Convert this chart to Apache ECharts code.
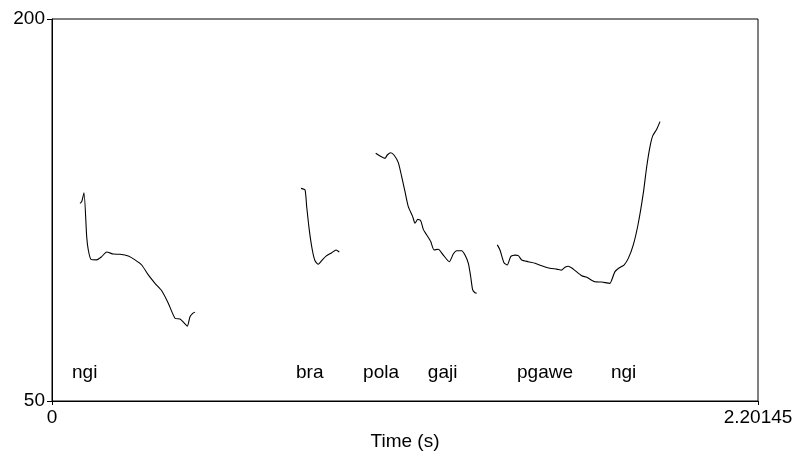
<!DOCTYPE html>
<html>
<head>
<meta charset="utf-8">
<script src="https://cdn.jsdelivr.net/npm/echarts@6/dist/echarts.min.js"></script>
<style>html,body{margin:0;padding:0;background:#fff}#c{width:799px;height:458px}</style>
</head>
<body>
<div id="c"></div>
<script>
var xMin = 0, xMax = 2.20145;
var yMin = 50, yMax = 200;
var xTickLabels = ['0', '2.20145'];
var yTickLabels = ['50', '200'];
var xAxisName = 'Time (s)';

var seg1 = [[0.0873,127.6],[0.0926,128.3],[0.0998,131.8],[0.1082,114.5],[0.1132,109.3],[0.1216,105.6],[0.1394,105.4],[0.1550,106.7],[0.1706,108.5],[0.1911,107.7],[0.2120,107.6],[0.2379,106.9],[0.2588,105.4],[0.2797,103.4],[0.3003,99.5],[0.3212,96.2],[0.3421,93.3],[0.3626,88.4],[0.3835,82.5],[0.3991,82.2],[0.4116,80.7],[0.4219,79.4],[0.4303,83.1],[0.4387,84.4],[0.4459,84.9]];
var seg2 = [[0.7764,133.5],[0.7889,132.9],[0.7942,126.3],[0.8023,117.1],[0.8117,109.3],[0.8201,105.1],[0.8304,103.7],[0.8410,105.1],[0.8544,106.9],[0.8722,108.2],[0.8856,109.3],[0.8958,108.5]];
var seg3 = [[1.0094,147.3],[1.0228,146.2],[1.0384,145.3],[1.0455,146.6],[1.0561,147.5],[1.0664,146.6],[1.0798,143.6],[1.0904,138.1],[1.1007,132.2],[1.1110,126.3],[1.1247,122.4],[1.1319,119.8],[1.1403,121.3],[1.1497,120.8],[1.1578,117.4],[1.1684,115.2],[1.1809,112.6],[1.1912,109.3],[1.2046,109.6],[1.2201,107.3],[1.2389,104.7],[1.2513,107.7],[1.2619,109.0],[1.2775,109.0],[1.2878,107.3],[1.2981,104.1],[1.3056,98.8],[1.3118,93.6],[1.3190,92.5],[1.3243,92.3]];
var seg4 = [[1.3885,111.3],[1.3969,109.3],[1.4094,104.3],[1.4197,103.4],[1.4303,106.7],[1.4437,107.3],[1.4540,107.1],[1.4646,105.4],[1.4852,104.7],[1.5061,104.1],[1.5270,103.1],[1.5529,102.1],[1.5737,101.8],[1.5893,101.4],[1.5996,102.5],[1.6099,102.9],[1.6255,101.8],[1.6517,99.2],[1.6673,98.6],[1.6932,96.8],[1.7141,96.7],[1.7400,96.2],[1.7453,97.5],[1.7555,100.8],[1.7690,102.3],[1.7836,103.4],[1.7970,106.0],[1.8126,111.3],[1.8282,119.8],[1.8438,131.6],[1.8544,142.0],[1.8647,149.9],[1.8731,154.1],[1.8856,156.7],[1.8959,159.7]];

var words = ['ngi', 'bra', 'pola', 'gaji', 'pgawe', 'ngi'];
var wordTimes = [0.0624, 0.761, 0.970, 1.172, 1.450, 1.743];
var wordLevel = 60.9;

var chart = echarts.init(document.getElementById('c'), null, {renderer: 'canvas'});
var font = 'Liberation Sans, Arial, sans-serif';
var fs = 19;
function lineSeries(d) {
  return {type: 'line', data: d, showSymbol: false, smooth: 0.2, silent: true,
    lineStyle: {color: '#000', width: 1.1}};
}
var wordData = words.map(function (w, i) { return {value: [wordTimes[i], wordLevel], name: w}; });
chart.setOption({
  animation: false,
  backgroundColor: '#fff',
  grid: {left: 52, right: 41, top: 19, bottom: 57, show: true, borderColor: '#000', borderWidth: 1},
  xAxis: {
    type: 'value', min: xMin, max: xMax, interval: xMax - xMin,
    axisLine: {show: true, lineStyle: {color: '#000', width: 1}},
    axisTick: {show: true, length: 4, lineStyle: {color: '#000'}},
    splitLine: {show: false},
    axisLabel: {color: '#000', fontSize: fs, fontFamily: font, margin: 7,
      formatter: function (v) { return v === xMin ? xTickLabels[0] : xTickLabels[1]; }},
    name: xAxisName, nameLocation: 'middle', nameGap: 31,
    nameTextStyle: {color: '#000', fontSize: fs, fontFamily: font}
  },
  yAxis: {
    type: 'value', min: yMin, max: yMax, interval: yMax - yMin,
    axisLine: {show: true, lineStyle: {color: '#000', width: 1}},
    axisTick: {show: true, length: 5, lineStyle: {color: '#000'}},
    splitLine: {show: false},
    axisLabel: {color: '#000', fontSize: fs, fontFamily: font, margin: 7,
      formatter: function (v) { return v === yMin ? yTickLabels[0] : yTickLabels[1]; }}
  },
  series: [
    lineSeries(seg1), lineSeries(seg2), lineSeries(seg3), lineSeries(seg4),
    {type: 'scatter', data: wordData, symbolSize: 0, silent: true,
      itemStyle: {opacity: 1, color: '#000'},
      label: {show: true, position: [0, 0], align: 'left', verticalAlign: 'middle', opacity: 1,
        formatter: '{b}', color: '#000', fontSize: fs, fontFamily: font}}
  ]
});
</script>
</body>
</html>
